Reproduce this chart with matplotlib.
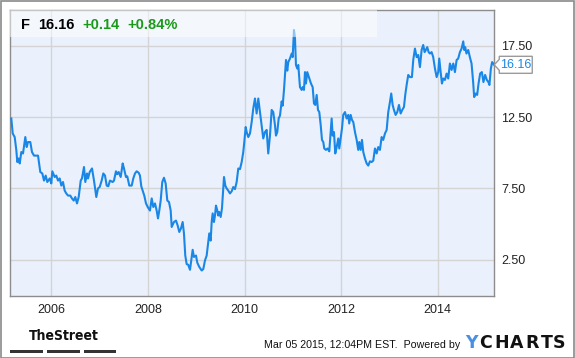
import matplotlib
matplotlib.use("Agg")
import matplotlib.pyplot as plt
import matplotlib.transforms as mtransforms
from matplotlib.patches import Rectangle, Polygon

# Ford (F) weekly-ish closes, Mar 2005 - Mar 2015
years = [
    2005.171, 2005.200, 2005.241, 2005.274, 2005.295, 2005.324, 2005.345, 2005.378, 2005.413, 2005.461,
    2005.490, 2005.516, 2005.564, 2005.599, 2005.641, 2005.724, 2005.771, 2005.813, 2005.848, 2005.883,
    2005.916, 2005.966, 2005.999, 2006.020, 2006.069, 2006.102, 2006.138, 2006.173, 2006.206, 2006.241,
    2006.276, 2006.309, 2006.345, 2006.392, 2006.427, 2006.463, 2006.496, 2006.531, 2006.566, 2006.608,
    2006.634, 2006.676, 2006.703, 2006.738, 2006.759, 2006.794, 2006.842, 2006.883, 2006.931, 2006.966,
    2007.001, 2007.042, 2007.076, 2007.111, 2007.146, 2007.179, 2007.214, 2007.270, 2007.297, 2007.338,
    2007.365, 2007.394, 2007.436, 2007.477, 2007.504, 2007.545, 2007.572, 2007.614, 2007.664, 2007.697,
    2007.732, 2007.767, 2007.808, 2007.835, 2007.862, 2007.891, 2007.924, 2007.960, 2007.995, 2008.042,
    2008.078, 2008.111, 2008.146, 2008.181, 2008.208, 2008.235, 2008.264, 2008.297, 2008.332, 2008.367,
    2008.401, 2008.436, 2008.471, 2008.492, 2008.539, 2008.581, 2008.616, 2008.649, 2008.684, 2008.719,
    2008.746, 2008.773, 2008.802, 2008.835, 2008.871, 2008.926, 2008.953, 2008.995, 2009.022, 2009.063,
    2009.113, 2009.146, 2009.181, 2009.216, 2009.249, 2009.270, 2009.299, 2009.320, 2009.340, 2009.367,
    2009.388, 2009.409, 2009.436, 2009.456, 2009.477, 2009.506, 2009.533, 2009.560, 2009.575, 2009.602,
    2009.630, 2009.663, 2009.699, 2009.734, 2009.767, 2009.802, 2009.837, 2009.871, 2009.906, 2009.941,
    2009.974, 2009.995, 2010.024, 2010.044, 2010.078, 2010.113, 2010.148, 2010.181, 2010.216, 2010.251,
    2010.285, 2010.320, 2010.355, 2010.388, 2010.423, 2010.458, 2010.491, 2010.527, 2010.562, 2010.595,
    2010.630, 2010.651, 2010.678, 2010.707, 2010.734, 2010.769, 2010.790, 2010.817, 2010.838, 2010.859,
    2010.885, 2010.906, 2010.941, 2010.977, 2010.997, 2011.024, 2011.045, 2011.065, 2011.092, 2011.113,
    2011.148, 2011.183, 2011.204, 2011.231, 2011.252, 2011.272, 2011.299, 2011.341, 2011.376, 2011.411,
    2011.438, 2011.465, 2011.494, 2011.521, 2011.548, 2011.577, 2011.604, 2011.631, 2011.651, 2011.686,
    2011.721, 2011.755, 2011.783, 2011.804, 2011.825, 2011.852, 2011.879, 2011.908, 2011.941, 2011.962,
    2011.991, 2012.018, 2012.044, 2012.080, 2012.115, 2012.148, 2012.168, 2012.198, 2012.225, 2012.252,
    2012.287, 2012.322, 2012.355, 2012.376, 2012.405, 2012.432, 2012.459, 2012.494, 2012.529, 2012.562,
    2012.597, 2012.633, 2012.666, 2012.701, 2012.736, 2012.769, 2012.804, 2012.839, 2012.872, 2012.908,
    2012.943, 2012.976, 2013.011, 2013.038, 2013.067, 2013.094, 2013.129, 2013.163, 2013.198, 2013.233,
    2013.266, 2013.301, 2013.328, 2013.357, 2013.390, 2013.425, 2013.466, 2013.494, 2013.529, 2013.564,
    2013.597, 2013.632, 2013.667, 2013.700, 2013.729, 2013.756, 2013.783, 2013.812, 2013.839, 2013.874,
    2013.907, 2013.943, 2013.978, 2014.011, 2014.032, 2014.061, 2014.088, 2014.115, 2014.150, 2014.185,
    2014.218, 2014.253, 2014.288, 2014.322, 2014.357, 2014.392, 2014.425, 2014.460, 2014.495, 2014.529,
    2014.549, 2014.570, 2014.595, 2014.632, 2014.666, 2014.701, 2014.734, 2014.755, 2014.790, 2014.817,
    2014.846, 2014.879, 2014.914, 2014.947, 2014.982, 2015.017, 2015.050, 2015.071, 2015.101, 2015.127,
    2015.168,
]
prices = [
    12.40, 11.35, 11.10, 10.20, 9.35, 9.60, 9.25, 10.05, 9.95, 11.10,
    10.40, 10.75, 10.75, 10.05, 9.80, 9.80, 8.65, 8.55, 8.05, 8.40,
    7.95, 8.20, 7.85, 8.70, 8.30, 8.40, 8.05, 8.20, 7.70, 7.95,
    7.35, 7.15, 7.00, 7.00, 6.80, 6.65, 6.90, 6.45, 6.90, 8.05,
    8.20, 9.00, 7.95, 8.55, 8.20, 8.65, 8.90, 8.05, 6.90, 7.50,
    7.60, 8.05, 8.55, 8.40, 7.70, 7.65, 8.05, 7.95, 8.05, 8.70,
    8.50, 8.65, 8.30, 9.25, 8.90, 8.30, 8.35, 7.70, 7.70, 8.20,
    8.55, 8.70, 8.60, 8.40, 7.65, 7.35, 7.00, 6.45, 6.20, 5.95,
    6.80, 6.20, 6.45, 5.95, 5.40, 5.95, 6.65, 7.95, 8.25, 7.85,
    6.65, 6.55, 5.95, 4.80, 5.15, 5.25, 4.90, 4.45, 4.70, 5.15,
    4.35, 2.80, 2.20, 2.15, 1.80, 3.20, 2.70, 2.80, 2.30, 2.00,
    1.75, 1.85, 2.45, 2.80, 3.75, 4.35, 3.85, 5.15, 5.75, 5.15,
    5.60, 6.30, 5.95, 5.60, 5.85, 5.50, 6.10, 7.50, 8.30, 7.70,
    7.50, 7.35, 7.15, 7.30, 7.60, 7.45, 7.95, 8.90, 8.85, 9.35,
    10.05, 10.75, 11.80, 11.45, 11.10, 11.35, 12.15, 13.10, 13.80, 12.75,
    13.80, 12.85, 11.95, 11.00, 11.45, 11.60, 9.95, 11.20, 13.00, 12.85,
    11.95, 11.20, 11.45, 12.40, 12.60, 13.60, 13.30, 14.40, 15.40, 16.50,
    15.75, 16.35, 16.60, 16.95, 16.70, 18.60, 18.00, 16.15, 15.90, 16.15,
    14.60, 14.40, 14.60, 14.40, 15.65, 14.85, 15.65, 15.20, 14.85, 14.60,
    13.45, 13.35, 14.05, 13.00, 12.85, 11.95, 10.90, 10.75, 10.30, 10.20,
    10.30, 10.10, 11.45, 12.40, 11.20, 11.45, 9.95, 10.40, 11.00, 10.30,
    11.00, 11.70, 12.65, 12.85, 12.40, 12.65, 12.05, 12.65, 12.30, 12.15,
    11.45, 10.90, 10.20, 10.75, 10.20, 10.90, 10.05, 9.60, 9.25, 9.10,
    9.40, 9.35, 9.45, 10.30, 9.95, 10.40, 10.20, 11.10, 10.90, 11.35,
    11.60, 12.85, 13.55, 14.15, 13.35, 13.00, 12.65, 12.85, 13.35, 12.75,
    13.00, 13.20, 14.05, 14.75, 15.45, 15.30, 15.30, 16.50, 17.30, 16.70,
    16.85, 16.00, 17.20, 17.55, 17.05, 17.20, 17.40, 17.05, 16.95, 17.05,
    16.70, 15.90, 15.30, 15.65, 16.60, 15.65, 14.85, 15.20, 15.10, 15.55,
    15.20, 16.25, 15.80, 16.25, 15.65, 16.50, 16.60, 17.05, 17.30, 17.80,
    17.20, 17.40, 16.95, 17.20, 16.70, 16.25, 14.95, 13.90, 14.15, 14.05,
    14.85, 15.55, 15.65, 14.95, 15.45, 15.10, 14.95, 14.75, 15.90, 16.35,
    16.16,
]
year_ticks = [2006, 2008, 2010, 2012, 2014]
price_ticks = [2.5, 7.5, 12.5, 17.5]
ticker = "F"
last_price = "16.16"
change = "+0.14"
change_pct = "+0.84%"

W, H = 575, 358
plt.rcParams['font.family'] = ['Liberation Sans', 'DejaVu Sans']

fig = plt.figure(figsize=(W / 100, H / 100), dpi=100)
fig.patch.set_facecolor('white')


def px(x, y):
    # figure pixel (from top-left) -> figure fraction
    return x / W, 1 - y / H


ax = fig.add_axes([10.3 / W, 1 - 295.5 / H, 484 / W, 285.5 / H])
ax.set_facecolor('#eaf1fc')
ax.plot(years, prices, color='#1a87e6', lw=1.5, zorder=3)

ax.set_xlim(2005.15, 2015.172)
ax.set_ylim(0, 20)
ax.set_xticks(year_ticks)
ax.set_xticklabels([str(y) for y in year_ticks])
ax.set_yticks(price_ticks)
ax.set_yticklabels([f"{v:.2f}" for v in price_ticks])
ax.yaxis.tick_right()
ax.tick_params(axis='both', length=0, labelsize=9, colors='#222222')
ax.tick_params(axis='x', pad=6)
ax.tick_params(axis='y', pad=5)
ax.grid(True, color='#d4d4d4', lw=1)
ax.set_axisbelow(True)
for s in ax.spines.values():
    s.set_color('#8c8c8c')
    s.set_linewidth(1)

# header band (semi transparent over the plot)
ax.add_patch(Rectangle((0, 1 - 27 / 285.5), 366.7 / 484, 27 / 285.5, transform=ax.transAxes,
                       fc='white', alpha=0.5, ec='none', zorder=4))

fig.text(*px(21, 29), ticker, fontsize=10.5, fontweight='bold', color='black', va='baseline')
fig.text(*px(38, 29), last_price, fontsize=10.5, fontweight='bold', color='black', va='baseline')
fig.text(*px(82, 29), change, fontsize=10.5, fontweight='bold', color='#1a9a1a', va='baseline')
fig.text(*px(127, 29), change_pct, fontsize=10.5, fontweight='bold', color='#1a9a1a', va='baseline')

# last price callout
anchor = fig.dpi_scale_trans + mtransforms.ScaledTranslation(years[-1] + 0.003, prices[-1], ax.transData)
callout = [(0, 0), (0.05, 0.055), (0.05, 0.085), (0.38, 0.085), (0.38, -0.085), (0.05, -0.085), (0.05, -0.055)]
fig.patches.append(Polygon(callout, closed=True, transform=anchor, fc='white', ec='#9a9a9a', lw=1))
fig.text(0.215, -0.005, last_price, transform=anchor, fontsize=9, color='#1a87e6',
         ha='center', va='center')

# footer
fig.text(*px(63.5, 336), "TheStreet", family='DejaVu Sans', fontstretch='condensed',
         fontsize=10, fontweight='bold', color='#111111', ha='center', va='center')
for x0, x1 in [(10, 42.5), (47, 79.5), (83.5, 116)]:
    fig.patches.append(Rectangle(px(x0, 352.5), (x1 - x0) / W, 3 / H, transform=fig.transFigure,
                                 fc='#333333', ec='none'))
fig.text(*px(460, 345), "Mar 05 2015, 12:04PM EST.  Powered by", fontsize=7.7, color='#111111',
         ha='right', va='center')
logo_letters = ["Y", "C", "H", "A", "R", "T", "S"]
logo_x = [471, 485.5, 501.5, 516.5, 532.5, 546.5, 559.5]
for ch, lx in zip(logo_letters, logo_x):
    fig.text(*px(lx, 343), ch, fontsize=12.5, fontweight='bold', family='DejaVu Sans',
             color='#4a90e2' if ch == "Y" else '#111111', ha='center', va='center')

# outer frame
fig.patches.append(Rectangle((0.5 / W, 0.5 / H), (W - 1.5) / W, (H - 1.5) / H, transform=fig.transFigure,
                             fc='none', ec='#8a8a8a', lw=1.2))

fig.savefig('out.png', dpi=100)
